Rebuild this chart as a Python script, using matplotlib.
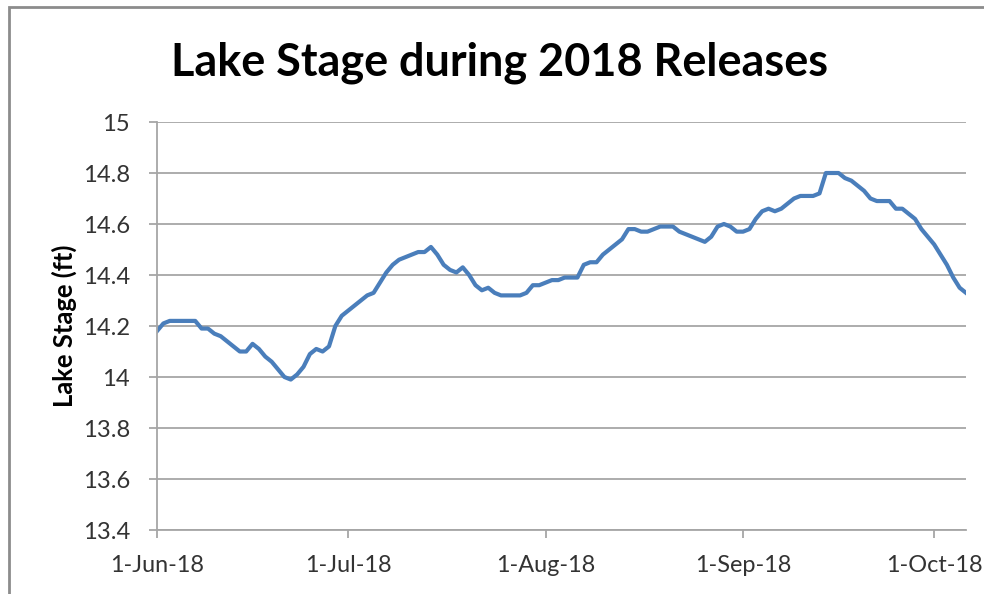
import numpy as np
import matplotlib
matplotlib.use("Agg")
import matplotlib.pyplot as plt
from matplotlib.patches import Rectangle

# daily lake stage, 1-Jun-18 .. 6-Oct-18
start_date = np.datetime64("2018-06-01")
stage = [
    14.18, 14.21, 14.22, 14.22, 14.22, 14.22, 14.22, 14.19, 14.19, 14.17,
    14.16, 14.14, 14.12, 14.10, 14.10, 14.13, 14.11, 14.08, 14.06, 14.03,
    14.00, 13.99, 14.01, 14.04, 14.09, 14.11, 14.10, 14.12, 14.20, 14.24,
    14.26, 14.28, 14.30, 14.32, 14.33, 14.37, 14.41, 14.44, 14.46, 14.47,
    14.48, 14.49, 14.49, 14.51, 14.48, 14.44, 14.42, 14.41, 14.43, 14.40,
    14.36, 14.34, 14.35, 14.33, 14.32, 14.32, 14.32, 14.32, 14.33, 14.36,
    14.36, 14.37, 14.38, 14.38, 14.39, 14.39, 14.39, 14.44, 14.45, 14.45,
    14.48, 14.50, 14.52, 14.54, 14.58, 14.58, 14.57, 14.57, 14.58, 14.59,
    14.59, 14.59, 14.57, 14.56, 14.55, 14.54, 14.53, 14.55, 14.59, 14.60,
    14.59, 14.57, 14.57, 14.58, 14.62, 14.65, 14.66, 14.65, 14.66, 14.68,
    14.70, 14.71, 14.71, 14.71, 14.72, 14.80, 14.80, 14.80, 14.78, 14.77,
    14.75, 14.73, 14.70, 14.69, 14.69, 14.69, 14.66, 14.66,
    14.64, 14.62, 14.58, 14.55, 14.52, 14.48, 14.44, 14.39, 14.35, 14.33,
]
dates = (start_date + np.arange(len(stage))).astype(object)

tick_dates = ["2018-06-01", "2018-07-01", "2018-08-01", "2018-09-01", "2018-10-01"]
tick_labels = ["1-Jun-18", "1-Jul-18", "1-Aug-18", "1-Sep-18", "1-Oct-18"]
y_ticks = [13.4, 13.6, 13.8, 14, 14.2, 14.4, 14.6, 14.8, 15]
y_labels = ["13.4", "13.6", "13.8", "14", "14.2", "14.4", "14.6", "14.8", "15"]

fig = plt.figure(figsize=(9.84, 5.94), dpi=100)
fig.patches.append(Rectangle((0.009, -0.05), 1.0, 1.038, transform=fig.transFigure,
                             fill=False, edgecolor="#8c8c8c", linewidth=2))
ax = fig.add_axes([157 / 984, 64 / 594, 809 / 984, 408 / 594])

ax.plot(dates, stage, color="#4a7ebb", linewidth=3.0, solid_joinstyle="round")

ax.set_ylim(13.4, 15)
ax.set_yticks(y_ticks)
ax.set_yticklabels(y_labels)
ax.set_xlim(dates[0], dates[-1])
ax.set_xticks([np.datetime64(d).astype(object) for d in tick_dates])
ax.set_xticklabels(tick_labels)

ax.grid(axis="y", color="#a6a6a6", linewidth=1.3)
ax.set_axisbelow(True)
for s in ["top", "right"]:
    ax.spines[s].set_visible(False)
for s in ["left", "bottom"]:
    ax.spines[s].set_color("#a6a6a6")
    ax.spines[s].set_linewidth(1.3)
ax.tick_params(axis="both", colors="#a6a6a6", labelcolor="#333333", labelsize=16,
               length=6, width=1.3)
for lbl in ax.get_xticklabels() + ax.get_yticklabels():
    lbl.set_family("Lato")

ylab = ax.set_ylabel("Lake Stage (ft)", fontsize=16, fontweight="bold", family="Lato")
ax.yaxis.set_label_coords(-0.099, 0.5)
title = fig.text(0.508, 0.895, "Lake Stage during 2018 Releases", ha="center", va="center",
                 fontsize=32, fontweight="bold", family="Lato")

# scale text sizes to the widths measured on the reference
fig.canvas.draw()
r = fig.canvas.get_renderer()
title.set_fontsize(32 * 658 / title.get_window_extent(r).width)
ylab.set_fontsize(16 * 163 / ylab.get_window_extent(r).height)
xw = ax.get_xticklabels()[1].get_window_extent(r).width
yw = ax.get_yticklabels()[6].get_window_extent(r).width
for lbl in ax.get_xticklabels():
    lbl.set_fontsize(16 * 87 / xw)
for lbl in ax.get_yticklabels():
    lbl.set_fontsize(16 * 47 / yw)
ax.tick_params(axis="y", pad=13.5)
ax.tick_params(axis="x", pad=12)

fig.savefig("out.png", dpi=100)
